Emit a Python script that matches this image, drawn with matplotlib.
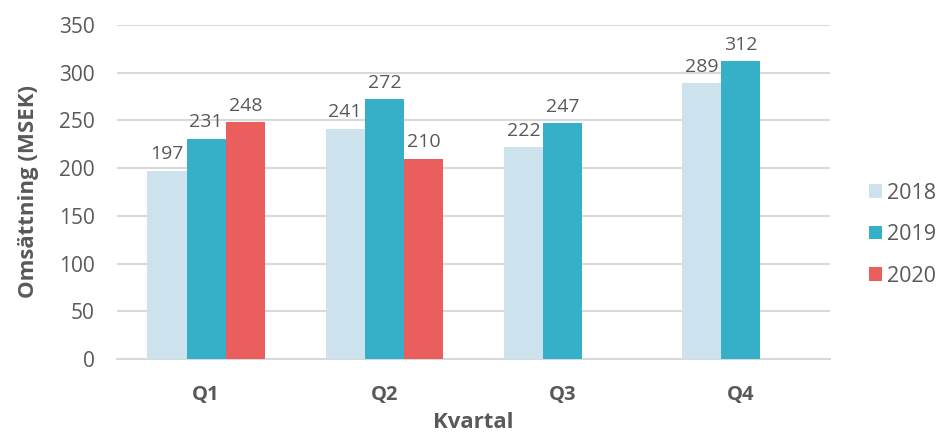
import matplotlib
matplotlib.use("Agg")
import matplotlib.pyplot as plt
import numpy as np

quarters = ["Q1", "Q2", "Q3", "Q4"]
years = ["2018", "2019", "2020"]
v2018 = [197, 241, 222, 289]
v2019 = [231, 272, 247, 312]
v2020 = [248, 210, np.nan, np.nan]
colors = ["#CCE3EE", "#36AFC8", "#EB5E5E"]

plt.rcParams['font.family'] = ['Open Sans', 'DejaVu Sans']
grey = "#595959"

fig = plt.figure(figsize=(9.38, 4.34), dpi=100)
ax = fig.add_axes([117/938, 75/434, 713/938, 334/434])

x = np.arange(len(quarters))
w = 0.22
series = [v2018, v2019, v2020]
for i, (vals, c, yr) in enumerate(zip(series, colors, years)):
    pos = x + (i - 1) * w
    ax.bar(pos, vals, width=w, color=c, label=yr, zorder=3)
    for xp, v in zip(pos, vals):
        if not np.isnan(v):
            ax.text(xp, v + 8, f"{int(v)}", ha="center", va="bottom",
                    fontsize=14, color=grey, zorder=4)

ax.set_xlim(-0.5, 3.5)
ax.set_ylim(0, 350)
ax.set_yticks(range(0, 351, 50))
ax.grid(axis="y", color="#D9D9D9", linewidth=1.5, zorder=0)
for s in ["top", "right", "left"]:
    ax.spines[s].set_visible(False)
ax.spines["bottom"].set_color("#D9D9D9")
ax.spines["bottom"].set_linewidth(1.5)
ax.tick_params(axis="both", length=0, colors=grey, labelsize=15)
ax.tick_params(axis="y", pad=16)
ax.tick_params(axis="x", pad=19)
ax.set_xticks(x)
ax.set_xticklabels(quarters, fontweight="bold", fontsize=14.5)
ax.set_xlabel("Kvartal", fontsize=16, fontweight="bold", color=grey, labelpad=5)
ax.set_ylabel("Omsättning (MSEK)", fontsize=16, fontweight="bold", color=grey, labelpad=14)

leg = ax.legend(loc="center left", bbox_to_anchor=(1 + 39/713, 0.372), frameon=False,
                fontsize=15.5, labelcolor=grey, handlelength=0.6, handleheight=0.6,
                handletextpad=0.25, labelspacing=0.95, borderpad=0, borderaxespad=0)

fig.savefig("out.png", dpi=100)
